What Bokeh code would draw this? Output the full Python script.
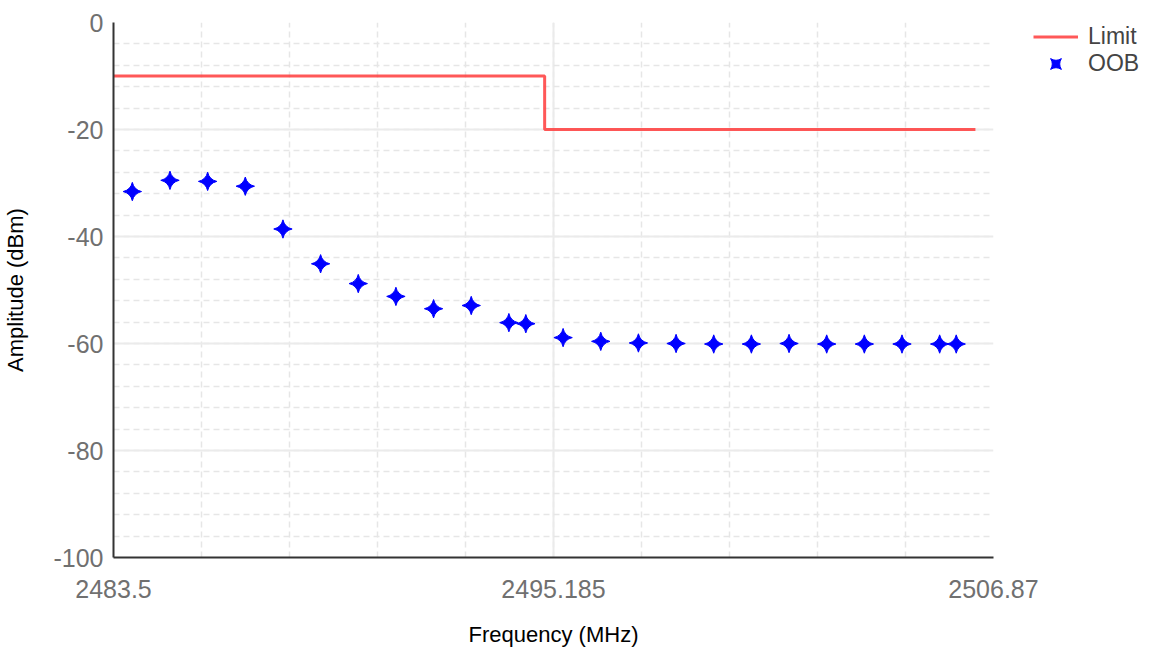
import math
from bokeh.plotting import figure
from bokeh.models import (Range1d, FixedTicker, Legend, LegendItem)
from bokeh.embed import file_html
from bokeh.resources import INLINE

# ---- data ----
freq_oob = [2484.0, 2485.0, 2486.0, 2487.0, 2488.0, 2489.0, 2490.0, 2491.0,
            2492.0, 2493.0, 2494.0, 2494.45, 2495.44, 2496.44, 2497.44, 2498.44,
            2499.44, 2500.44, 2501.44, 2502.44, 2503.44, 2504.44, 2505.44, 2505.88]
amp_oob = [-31.6, -29.5, -29.7, -30.6, -38.6, -45.1, -48.8, -51.2,
           -53.5, -52.9, -56.1, -56.3, -58.9, -59.6, -59.9, -60.0,
           -60.1, -60.1, -60.0, -60.1, -60.1, -60.1, -60.1, -60.1]
freq_limit = [2483.5, 2494.95, 2494.95, 2506.39]
amp_limit = [-10, -10, -20, -20]

x_ticks = [2483.5, 2495.185, 2506.87]
x_tick_labels = ["2483.5", "2495.185", "2506.87"]
x_minor = [2483.5, 2485.837, 2488.174, 2490.511, 2492.848, 2495.185,
           2497.522, 2499.859, 2502.196, 2504.533, 2506.87]
y_ticks = [-100, -80, -60, -40, -20, 0]
y_tick_labels = ["-100", "-80", "-60", "-40", "-20", "0"]
y_minor = [-100, -96, -92, -88, -84, -80, -76, -72, -68, -64, -60, -56, -52,
           -48, -44, -40, -36, -32, -28, -24, -20, -16, -12, -8, -4, 0]

FONT = "Liberation Sans"

p = figure(frame_width=880, frame_height=535, output_backend="svg", toolbar_location=None,
           x_range=Range1d(2483.5, 2506.87), y_range=Range1d(-100, 0),
           min_border_left=113, min_border_top=22, min_border_bottom=10,
           min_border_right=157)
p.outline_line_color = None
p.background_fill_color = "white"

r_line = p.line(freq_limit, amp_limit, line_color="#ff3b3b", line_width=3, line_alpha=0.85)
r_pts = p.scatter(freq_oob, amp_oob, marker="square_pin", size=13, angle=math.pi / 4,
                  fill_color="#0000ff", line_color="#0000ff")

# axes
p.xaxis.ticker = FixedTicker(ticks=x_ticks, minor_ticks=x_minor)
p.xaxis.major_label_overrides = dict(zip(x_ticks, x_tick_labels))
p.yaxis.ticker = FixedTicker(ticks=y_ticks, minor_ticks=y_minor)
p.yaxis.major_label_overrides = dict(zip(y_ticks, y_tick_labels))

for ax in (p.xaxis, p.yaxis):
    ax.axis_line_color = "#333333"
    ax.axis_line_width = 2
    ax.major_tick_line_color = None
    ax.minor_tick_line_color = None
    ax.major_tick_out = 0
    ax.major_tick_in = 0
    ax.major_label_text_font = FONT
    ax.major_label_text_font_size = "25px"
    ax.major_label_text_color = "#707070"
    ax.axis_label_text_font = FONT
    ax.axis_label_text_font_size = "22px"
    ax.axis_label_text_font_style = "normal"
    ax.axis_label_text_color = "black"

p.yaxis.major_label_standoff = 6
p.yaxis.axis_label = "Amplitude (dBm)"
p.yaxis.axis_label_standoff = 22

p.xaxis.major_label_standoff = 18
p.xaxis.axis_label = "Frequency (MHz)"
p.xaxis.axis_label_standoff = 21

# grids
p.xgrid.grid_line_color = "#ebebeb"
p.xgrid.grid_line_width = 2
p.xgrid.minor_grid_line_color = "#e6e6e6"
p.xgrid.minor_grid_line_dash = "6 4"
p.xgrid.minor_grid_line_width = 1.5
p.ygrid.grid_line_color = "#ebebeb"
p.ygrid.grid_line_width = 2
p.ygrid.minor_grid_line_color = "#e6e6e6"
p.ygrid.minor_grid_line_dash = "6 4"
p.ygrid.minor_grid_line_width = 1.5

legend = Legend(items=[LegendItem(label="Limit", renderers=[r_line]),
                       LegendItem(label="OOB", renderers=[r_pts])],
                location=(40, 480), border_line_color=None, background_fill_alpha=0,
                label_text_font=FONT, label_text_font_size="23px",
                glyph_width=45, glyph_height=27, label_standoff=10, spacing=0,
                padding=10, margin=0)
p.add_layout(legend, "right")

open("out.html", "w").write(file_html(p, INLINE))
